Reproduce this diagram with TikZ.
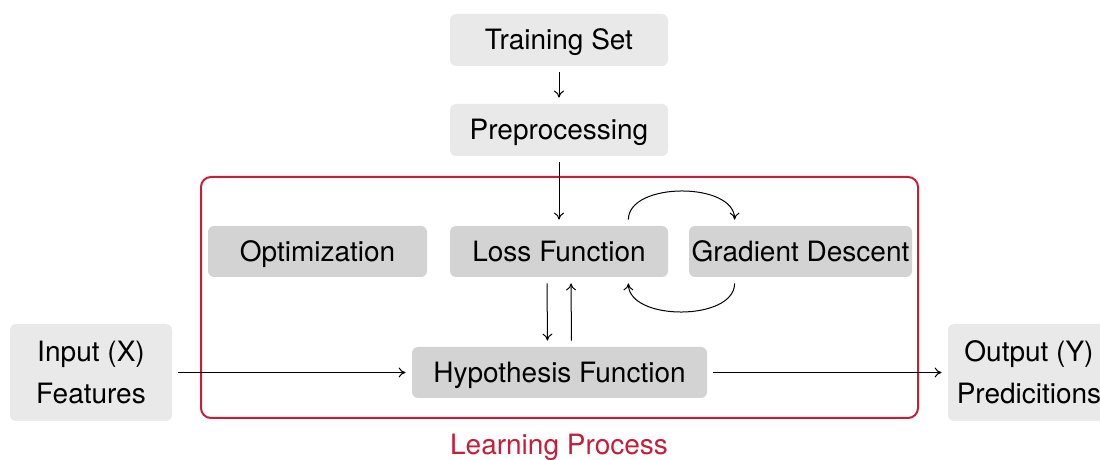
\documentclass[tikz,border=0pt]{standalone}
\usepackage{fontspec}
\setmainfont{TeX Gyre Heros}
\usetikzlibrary{arrows.meta}
\definecolor{boxlight}{HTML}{E9E9E9}
\definecolor{boxdark}{HTML}{D3D3D3}
\definecolor{framered}{HTML}{C41E3A}
\begin{document}
\begin{tikzpicture}[x=0.5pt,y=-0.5pt,
  font=\fontsize{14}{21}\selectfont,
  box/.style={rounded corners=3pt, inner sep=0pt, align=center,
              text height=11pt, text depth=1pt},
  lightbox/.style={box, fill=boxlight},
  darkbox/.style={box, fill=boxdark},
  flow/.style={-{To[length=3.5pt,width=5pt]}, line width=0.5pt,
               shorten <=3pt, shorten >=3pt}
]
\useasboundingbox (0,0) rectangle (1100,460);

% learning process frame
\node[draw=framered, line width=1pt, rounded corners=5pt,
      minimum width=358.5pt, minimum height=120.5pt, inner sep=0pt]
      (frame) at (559.5,297.5) {};
\node[text=framered] (frameLabel) at (559,447) {Learning Process};

% boxes
\node[lightbox, minimum width=109pt, minimum height=26pt] (train) at (559,40) {Training Set};
\node[lightbox, minimum width=109pt, minimum height=26pt] (prep) at (559,130) {Preprocessing};
\node[darkbox, minimum width=109.5pt, minimum height=25.5pt] (opt) at (317.5,251.5) {Optimization};
\node[darkbox, minimum width=109pt, minimum height=25.5pt] (loss) at (559,251.5) {Loss Function};
\node[darkbox, minimum width=111.5pt, minimum height=25.5pt] (grad) at (800.5,251.5) {Gradient Descent};
\node[darkbox, minimum width=147.5pt, minimum height=25.5pt] (hyp) at (559.5,372.5) {Hypothesis Function};
\node[lightbox, minimum width=81pt, minimum height=48.5pt, text height=, text depth=]
      (input) at (91,372.5) {Input (X)\\Features};
\node[lightbox, minimum width=81pt, minimum height=48.5pt, text height=, text depth=]
      (output) at (1029,372.5) {Output (Y)\\Predicitions};

% connectors
\draw[flow] (train) -- (prep);
\draw[flow] (prep) -- (loss);
\draw[flow] ([xshift=-6pt]loss.south) -- ([xshift=-6pt]hyp.north);
\draw[flow] ([xshift=6pt]hyp.north) -- ([xshift=6pt]loss.south);
\draw[flow] (input) -- (hyp);
\draw[flow] (hyp) -- (output);
\draw[flow]
  ([xshift=-20pt]loss.north east) .. controls +(0,22pt) and +(0,22pt) ..
  ([xshift=23pt]grad.north west);
\draw[flow]
  ([xshift=23pt]grad.south west) .. controls +(0,-22pt) and +(0,-22pt) ..
  ([xshift=-20pt]loss.south east);
\end{tikzpicture}
\end{document}
